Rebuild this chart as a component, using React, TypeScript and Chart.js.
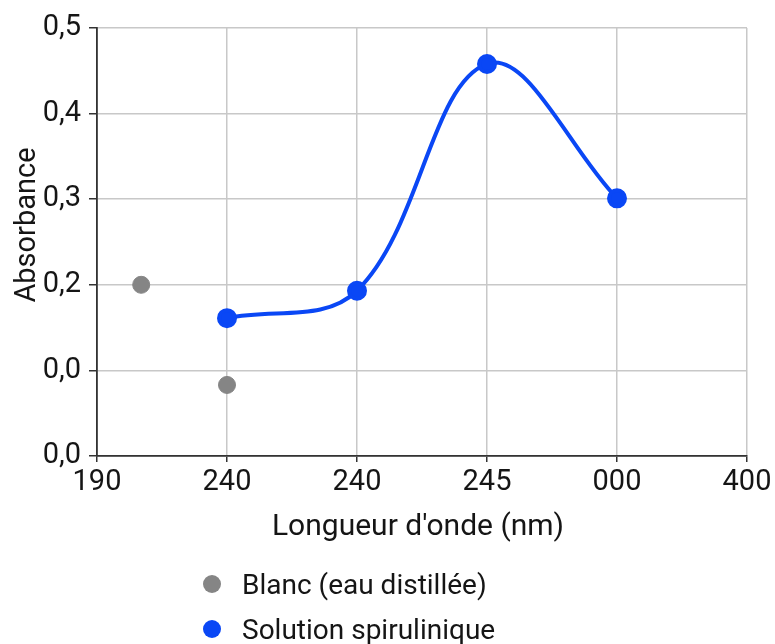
import React, { useEffect, useRef } from "react";
import { Chart, registerables } from "chart.js";

Chart.register(...registerables);

const xTickLabels = ["190", "240", "240", "245", "000", "400"];
const yTickLabels = ["0,0", "0,0", "0,2", "0,3", "0,4", "0,5"];

const blancX = [0.34, 1];
const blancY = [0.2, 0.083];

const spiruX = [1, 2, 3, 4];
const spiruY = [0.161, 0.193, 0.458, 0.301];

const seriesNames = ["Blanc (eau distillée)", "Solution spirulinique"];
const xTitle = "Longueur d'onde (nm)";
const yTitle = "Absorbance";

const GRAY = "#858585";
const BLUE = "#0a47f5";
const FONT = "Roboto, 'Noto Sans', sans-serif";

const W = 775;
const H = 644;

export default function App() {
  const ref = useRef<HTMLCanvasElement | null>(null);

  useEffect(() => {
    if (!ref.current) return;
    const titlePlugin = {
      id: "axisTitles",
      afterDraw(chart: any) {
        const ctx = chart.ctx;
        ctx.save();
        ctx.fillStyle = "#151515";
        ctx.textAlign = "center";
        ctx.textBaseline = "middle";
        ctx.font = `30px ${FONT}`;
        ctx.fillText(xTitle, 418, 527);
        ctx.font = `29px ${FONT}`;
        ctx.translate(28, 225);
        ctx.rotate(-Math.PI / 2);
        ctx.fillText(yTitle, 0, 0);
        ctx.restore();
      },
    };

    const chart = new Chart(ref.current, {
      type: "scatter",
      data: {
        datasets: [
          {
            label: seriesNames[0],
            data: blancX.map((x, i) => ({ x, y: blancY[i] })),
            backgroundColor: GRAY,
            borderColor: GRAY,
            pointRadius: 8.5,
            pointHoverRadius: 8.5,
            showLine: false,
          },
          {
            label: seriesNames[1],
            data: spiruX.map((x, i) => ({ x, y: spiruY[i] })),
            backgroundColor: BLUE,
            borderColor: BLUE,
            borderWidth: 4,
            pointRadius: 8,
            pointHoverRadius: 8,
            showLine: true,
            tension: 0.37,
          },
        ],
      },
      options: {
        responsive: false,
        animation: false,
        layout: { padding: { left: 0, top: 28, right: 28, bottom: 78 } },
        plugins: {
          legend: { display: false },
          tooltip: { enabled: false },
        },
        scales: {
          x: {
            type: "linear",
            min: 0,
            max: 5,
            afterFit: (s: any) => {
              s.height = 110;
            },
            ticks: {
              stepSize: 1,
              color: "#151515",
              font: { family: FONT, size: 29 },
              padding: 3,
              maxRotation: 0,
              callback: (v: any) => xTickLabels[Math.round(Number(v))] ?? "",
            },
            grid: {
              color: "#c8c8c8",
              lineWidth: 1.5,
              tickLength: 6,
              tickColor: "#333",
              tickWidth: 1.5,
            },
            border: { color: "#333", width: 1.8 },
            title: { display: false },
          },
          y: {
            type: "linear",
            min: 0,
            max: 0.5,
            afterFit: (s: any) => {
              s.width = 97;
            },
            ticks: {
              stepSize: 0.1,
              color: "#151515",
              font: { family: FONT, size: 29 },
              padding: 8,
              callback: (v: any) => yTickLabels[Math.round(Number(v) * 10)] ?? "",
            },
            grid: {
              color: "#c8c8c8",
              lineWidth: 1.5,
              tickLength: 8,
              tickColor: "#333",
              tickWidth: 1.5,
            },
            border: { color: "#333", width: 1.8 },
            title: { display: false },
          },
        },
      },
      plugins: [titlePlugin],
    });
    return () => chart.destroy();
  }, []);

  const legendColors = [GRAY, BLUE];
  const legendTops = [584, 629];

  return (
    <div style={{ position: "fixed", left: 0, top: 0, width: W, height: H, background: "#fff", overflow: "hidden" }}>
      <canvas ref={ref} width={W} height={H} style={{ width: W, height: H, display: "block" }} />
      {seriesNames.map((name, i) => (
        <div
          key={name}
          style={{
            position: "absolute",
            left: 203,
            top: legendTops[i] - 18,
            height: 36,
            display: "flex",
            alignItems: "center",
            fontFamily: FONT,
            fontSize: 28,
            color: "#151515",
            whiteSpace: "nowrap",
          }}
        >
          <span
            style={{
              display: "inline-block",
              width: 18,
              height: 18,
              borderRadius: "50%",
              background: legendColors[i],
              marginRight: 21,
            }}
          />
          {name}
        </div>
      ))}
    </div>
  );
}
